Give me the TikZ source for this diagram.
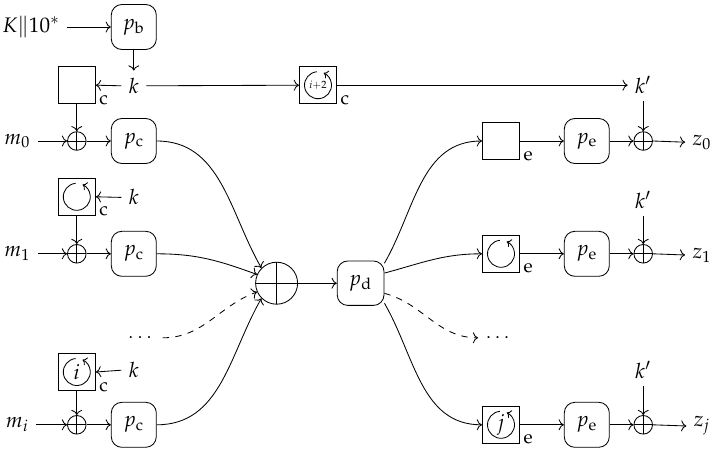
\documentclass[tikz,border=0pt]{standalone}
\usepackage{amsmath}
\usepackage{mathpazo}
\usetikzlibrary{arrows.meta,positioning}
\tikzset{
  perm/.style={draw, rounded corners=5pt, minimum width=0.75cm, minimum height=0.75cm, inner sep=1pt},
  blk/.style={draw, minimum width=0.62cm, minimum height=0.62cm, inner sep=0pt},
  rot/.style={blk, path picture={\draw[-{To[length=2pt,width=4pt]}] ([shift={(95:0.225)}]path picture bounding box.center) arc[start angle=95, end angle=425, radius=0.225];}},
  subc/.style={label={[anchor=base west, inner sep=1.5pt, font=\small]south east:$\mathrm{c}$}},
  sube/.style={label={[anchor=base west, inner sep=1.5pt, font=\small]south east:$\mathrm{e}$}},
  xorsym/.style={draw, circle, minimum size=0.31cm, inner sep=0pt, path picture={\draw (path picture bounding box.north) -- (path picture bounding box.south) (path picture bounding box.west) -- (path picture bounding box.east);}},
  bigxor/.style={xorsym, minimum size=0.7cm},
  flow/.style={-{To}},
  dashflow/.style={-{To}, dashed}
}

\begin{document}
\begin{tikzpicture}[x=1cm,y=1cm]
  \useasboundingbox (0,0) rectangle (11.983,-7.8);
  % key schedule
  \node (key) at (0.52,-0.45) {$K\|10^*$};
  \node[perm] (pb) at (2.23,-0.45) {$p_{\mathrm{b}}$};
  \node (k0) at (2.23,-1.43) {$k$};
  \node[blk, subc] (sq0) at (1.28,-1.42) {};
  \node[rot, subc] (r2) at (5.3,-1.42) {\tiny$i{+}2$};
  \node (kp0) at (10.72,-1.42) {$k'$};

  % left branches
  \node (m0) at (0.29,-2.35) {$m_0$};
  \node[xorsym] (x0) at (1.28,-2.35) {};
  \node[perm] (pc0) at (2.23,-2.35) {$p_{\mathrm{c}}$};

  \node[rot, subc] (r1) at (1.28,-3.28) {};
  \node (k1) at (2.23,-3.29) {$k$};
  \node (m1) at (0.29,-4.23) {$m_1$};
  \node[xorsym] (x1) at (1.28,-4.23) {};
  \node[perm] (pc1) at (2.23,-4.23) {$p_{\mathrm{c}}$};

  \node[font=\small] (dotsL) at (2.36,-5.63) {$\cdots$};

  \node[rot, subc] (ri) at (1.28,-6.2) {$i$};
  \node (ki) at (2.23,-6.17) {$k$};
  \node (mi) at (0.29,-7.08) {$m_i$};
  \node[xorsym] (xi) at (1.28,-7.08) {};
  \node[perm] (pci) at (2.23,-7.08) {$p_{\mathrm{c}}$};

  % middle
  \node[bigxor] (bx) at (4.61,-4.72) {};
  \node[perm, minimum width=0.78cm, minimum height=0.74cm] (pd) at (6.01,-4.72) {$p_{\mathrm{d}}$};

  % right branches
  \node[blk, sube] (e0) at (8.35,-2.35) {};
  \node[perm] (pe0) at (9.78,-2.35) {$p_{\mathrm{e}}$};
  \node[xorsym] (y0) at (10.72,-2.35) {};
  \node (z0) at (11.7,-2.37) {$z_0$};

  \node (kp1) at (10.72,-3.33) {$k'$};
  \node[rot, sube] (e1) at (8.35,-4.23) {};
  \node[perm] (pe1) at (9.78,-4.23) {$p_{\mathrm{e}}$};
  \node[xorsym] (y1) at (10.72,-4.23) {};
  \node (z1) at (11.7,-4.25) {$z_1$};

  \node[font=\small] (dotsR) at (8.32,-5.63) {$\cdots$};

  \node (kpj) at (10.72,-6.17) {$k'$};
  \node[rot, sube] (ej) at (8.35,-7.08) {$j$};
  \node[perm] (pej) at (9.78,-7.08) {$p_{\mathrm{e}}$};
  \node[xorsym] (yj) at (10.72,-7.08) {};
  \node (zj) at (11.7,-7.1) {$z_j$};

  \draw[flow] (key.east) -- (pb.west);
  \draw[flow] (pb.south) -- (k0.north);
  \draw[flow] (k0.west) -- (sq0.east);
  \draw[flow] (k0.east) -- (r2.west);
  \draw[flow] (r2.east) -- (kp0.west);
  \draw[flow] (kp0.south) -- (y0.north);

  \draw[flow] (sq0.south) -- (x0.north);
  \draw[flow] (m0.east) -- (x0.west);
  \draw[flow] (x0.east) -- (pc0.west);
  \draw[flow] (k1.west) -- (r1.east);
  \draw[flow] (r1.south) -- (x1.north);
  \draw[flow] (m1.east) -- (x1.west);
  \draw[flow] (x1.east) -- (pc1.west);
  \draw[flow] (ki.west) -- (ri.east);
  \draw[flow] (ri.south) -- (xi.north);
  \draw[flow] (mi.east) -- (xi.west);
  \draw[flow] (xi.east) -- (pci.west);

  \draw[flow] (pc0.east) to[out=0, in=120] (bx.135);
  \draw[flow] (pc1.east) to[out=0, in=160] (bx.156);
  \draw[dashflow] (dotsL.east) to[out=0, in=200] (bx.204);
  \draw[flow] (pci.east) to[out=0, in=240] (bx.225);
  \draw[flow] (bx.east) -- (pd.west);

  \draw[flow] (pd.40) to[out=60, in=180] (e0.west);
  \draw[flow] (pd.23) to[out=15, in=180] (e1.west);
  \draw[dashflow] (pd.-23) to[out=-15, in=180] (dotsR.west);
  \draw[flow] (pd.-40) to[out=-60, in=180] (ej.west);

  \draw[flow] (e0.east) -- (pe0.west);
  \draw[flow] (pe0.east) -- (y0.west);
  \draw[flow] (y0.east) -- (z0.west);
  \draw[flow] (e1.east) -- (pe1.west);
  \draw[flow] (pe1.east) -- (y1.west);
  \draw[flow] (y1.east) -- (z1.west);
  \draw[flow] (kp1.south) -- (y1.north);
  \draw[flow] (ej.east) -- (pej.west);
  \draw[flow] (pej.east) -- (yj.west);
  \draw[flow] (yj.east) -- (zj.west);
  \draw[flow] (kpj.south) -- (yj.north);
\end{tikzpicture}
\end{document}
